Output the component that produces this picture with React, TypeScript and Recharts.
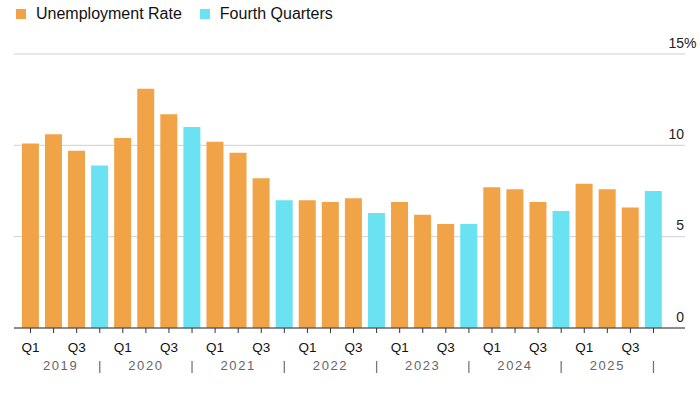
import { BarChart, Bar, Cell, XAxis, YAxis, CartesianGrid } from 'recharts';

const years = ['2019', '2020', '2021', '2022', '2023', '2024', '2025'];
const quarters = ['Q1', 'Q2', 'Q3', 'Q4'];
const rates = [
  10.1, 10.6, 9.7, 8.9,
  10.4, 13.1, 11.7, 11.0,
  10.2, 9.6, 8.2, 7.0,
  7.0, 6.9, 7.1, 6.3,
  6.9, 6.2, 5.7, 5.7,
  7.7, 7.6, 6.9, 6.4,
  7.9, 7.6, 6.6, 7.5,
];
const yTicks = [0, 5, 10, 15];
const legendItems = [
  { name: 'Unemployment Rate', color: '#F0A347' },
  { name: 'Fourth Quarters', color: '#6AE2F2' },
];

const FONT = '"Liberation Sans", Arial, sans-serif';

const data = rates.map((rate, i) => ({
  key: `${years[Math.floor(i / 4)]} ${quarters[i % 4]}`,
  quarter: quarters[i % 4],
  year: years[Math.floor(i / 4)],
  rate,
}));

const XTick = ({ x, y, index }: any) => {
  const d = data[index];
  if (!d) return null;
  const q = d.quarter;
  return (
    <g>
      {(q === 'Q1' || q === 'Q3') && (
        <text x={x} y={y + 19} textAnchor="middle" fontSize={13.5} fill="#111" fontFamily={FONT}>
          {q}
        </text>
      )}
      {q === 'Q2' && (
        <text
          x={x + (index === 1 ? 7 : 0)}
          y={y + 37}
          textAnchor="middle"
          fontSize={13}
          fill="#666"
          letterSpacing={1.6}
          fontFamily={FONT}
        >
          {d.year}
        </text>
      )}
      {q === 'Q4' && <line x1={x} x2={x} y1={y + 28} y2={y + 40} stroke="#777" strokeWidth={1.3} />}
    </g>
  );
};

// labels sit above their gridline, right-aligned at the plot edge
const YTick = ({ x, y, payload }: any) => (
  <g>
    <text x={x - 1} y={y - 6.5} textAnchor="end" fontSize={14} fill="#222" fontFamily={FONT}>
      {payload.value}
    </text>
    {payload.value === 15 && (
      <text x={x - 1} y={y - 6.5} textAnchor="start" fontSize={14} fill="#222" fontFamily={FONT}>
        %
      </text>
    )}
  </g>
);

export default function App() {
  return (
    <div style={{ position: 'absolute', left: 0, top: 0, width: 700, height: 394, background: '#fff' }}>
      <div
        style={{
          position: 'absolute',
          left: 16,
          top: 5,
          display: 'flex',
          alignItems: 'center',
          fontFamily: FONT,
          fontSize: 16,
          color: '#111',
          zIndex: 2,
        }}
      >
        {legendItems.map((item) => (
          <div key={item.name} style={{ display: 'flex', alignItems: 'center', marginRight: 18 }}>
            <span style={{ width: 10, height: 10, background: item.color, marginRight: 10, display: 'inline-block' }} />
            <span>{item.name}</span>
          </div>
        ))}
      </div>
      <BarChart
        width={700}
        height={394}
        data={data}
        margin={{ top: 54, right: 14, left: 14, bottom: 16 }}
        barCategoryGap="12.5%"
      >
        <CartesianGrid vertical={false} stroke="#d0d0d0" />
        <XAxis
          dataKey="key"
          interval={0}
          height={50}
          padding={{ left: 5, right: 20 }}
          axisLine={{ stroke: '#333' }}
          tickLine={{ stroke: '#333' }}
          tickSize={5}
          tickMargin={0}
          tick={<XTick />}
        />
        <YAxis
          orientation="right"
          width={1}
          domain={[0, 15]}
          ticks={yTicks}
          interval={0}
          axisLine={false}
          tickLine={false}
          tickSize={0}
          tickMargin={0}
          tick={<YTick />}
        />
        <Bar dataKey="rate" isAnimationActive={false}>
          {data.map((d) => (
            <Cell key={d.key} fill={d.quarter === 'Q4' ? legendItems[1].color : legendItems[0].color} />
          ))}
        </Bar>
      </BarChart>
    </div>
  );
}
